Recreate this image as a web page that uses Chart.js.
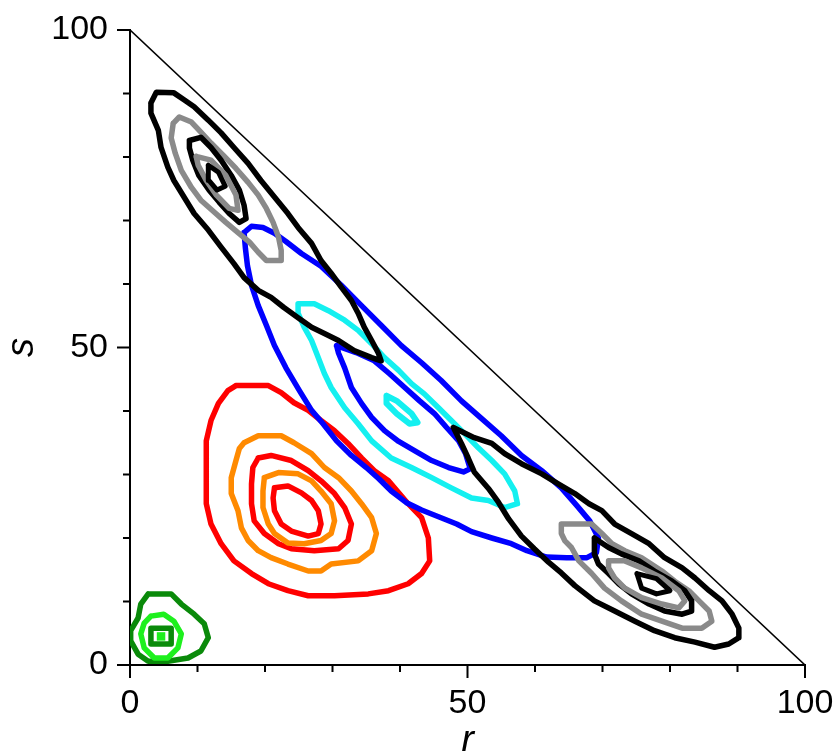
<!DOCTYPE html>
<html>
<head>
<meta charset="utf-8">
<script src="https://cdn.jsdelivr.net/npm/chart.js@4.4.1/dist/chart.umd.min.js"></script>
<style>
  html, body { margin: 0; padding: 0; background: #fff; }
  #wrap { width: 838px; height: 751px; position: relative; }
</style>
</head>
<body>
<div id="wrap"><canvas id="c" width="838" height="751"></canvas></div>
<script>
// Contour lines of the density over (r, s); each list is a closed loop of [r, s] vertices.

// upper-left cluster
const blackNWOuter = [[3.1,88.5],[3.9,90.2],[6.5,90.1],[8.0,89.0],[9.5,87.9],[11.6,85.8],[13.5,83.8],[15.4,81.5],[17.5,79.0],[19.4,76.3],[21.4,73.7],[23.4,71.1],[24.9,68.9],[26.9,66.4],[28.3,63.7],[29.8,61.7],[31.3,59.5],[32.8,57.4],[33.8,55.4],[34.7,53.2],[35.8,51.1],[36.8,49.1],[37.2,47.9],[35.8,48.4],[33.2,49.5],[30.9,51.1],[28.8,52.2],[26.9,53.2],[24.9,54.7],[22.8,56.3],[20.9,57.9],[19.0,59.0],[16.9,61.0],[15.4,63.2],[13.5,65.8],[11.6,68.5],[9.5,71.1],[8.0,73.7],[6.5,76.3],[5.6,78.4],[4.6,81.5],[4.2,84.2],[3.1,86.9]];
const grayNWOuter = [[6.4,85.3],[7.3,86.3],[9.1,85.5],[10.5,83.9],[12.0,82.2],[13.8,80.3],[15.7,78.2],[17.5,76.0],[19.0,74.0],[20.2,71.9],[21.2,69.7],[22.0,67.4],[22.4,65.3],[22.4,63.7],[20.2,63.7],[19.0,65.0],[17.7,66.6],[16.0,68.1],[14.2,69.7],[12.5,71.3],[10.5,73.2],[9.1,75.2],[7.6,77.9],[6.7,80.6],[6.1,83.0]];
const blackNWInner = [[8.8,82.6],[10.5,83.1],[12.0,81.5],[13.5,79.5],[15.0,77.1],[16.2,74.8],[16.9,72.4],[17.2,70.3],[16.2,69.7],[14.7,71.1],[13.2,72.9],[11.7,74.8],[10.2,77.1],[9.3,79.5],[8.8,81.4]];
const grayNWInner = [[9.8,80.1],[12.0,79.5],[14.2,77.1],[15.7,74.0],[16.0,71.6],[14.7,71.9],[12.8,74.0],[11.3,76.3],[10.1,78.7]];
const blackNWPeak = [[11.6,78.7],[13.1,77.6],[14.1,75.4],[12.9,74.8],[11.7,76.3]];

// lower-right cluster
const blackSEOuter = [[47.9,37.4],[51.0,35.8],[53.6,34.9],[55.5,33.3],[58.0,31.7],[61.0,30.1],[63.5,28.5],[65.9,27.0],[68.0,25.4],[69.9,24.3],[71.8,22.2],[74.3,20.7],[76.9,19.1],[79.2,16.9],[81.8,15.3],[83.7,13.7],[85.8,11.7],[87.7,10.1],[89.2,8.0],[90.2,5.8],[90.2,4.3],[88.7,3.3],[86.6,2.8],[83.7,3.6],[80.7,4.3],[77.7,5.4],[74.8,6.9],[71.8,8.5],[68.8,10.1],[65.9,12.5],[63.9,14.5],[62.0,16.2],[59.9,18.3],[58.0,20.3],[56.1,23.0],[54.6,25.6],[53.1,27.8],[51.0,30.4],[50.1,32.6],[49.1,34.9]];
const graySEOuter = [[63.9,22.2],[68.4,22.2],[69.9,20.7],[71.4,19.1],[73.3,18.0],[75.8,16.9],[78.8,14.8],[80.7,13.2],[82.8,11.7],[84.3,10.1],[85.8,8.5],[86.2,6.9],[84.7,5.8],[81.8,5.8],[78.8,6.9],[75.8,8.0],[72.8,10.1],[70.3,12.1],[68.4,14.4],[66.5,16.4],[65.4,18.5],[64.4,19.6],[63.9,20.7]];
const blackSEInner = [[68.8,20.0],[70.9,18.5],[72.8,17.5],[75.4,16.4],[77.7,14.8],[80.3,13.2],[82.2,11.7],[83.2,10.1],[83.2,8.5],[81.8,8.0],[79.2,8.5],[76.9,9.6],[74.3,11.2],[72.4,12.8],[70.9,14.4],[69.4,15.9],[68.8,17.5]];
const graySEInner = [[70.9,16.4],[73.3,16.4],[75.8,15.3],[78.8,13.7],[81.3,11.7],[82.2,10.1],[81.3,9.0],[78.8,9.6],[75.8,10.6],[73.3,12.1],[71.8,13.7],[70.9,15.3]];
const blackSEPeak = [[75.1,14.4],[78.0,13.6],[80.0,11.7],[78.0,11.2],[75.8,12.1]];

// central ridge
const blueOuter = [[16.9,68.1],[18.0,69.1],[19.7,68.9],[21.4,68.0],[23.1,66.7],[25.4,64.8],[28.3,62.8],[31.3,59.8],[34.3,56.6],[37.2,53.5],[40.2,50.3],[43.2,47.6],[46.1,44.8],[49.1,41.6],[52.1,38.8],[55.0,36.1],[58.0,33.0],[61.0,30.6],[63.9,27.9],[66.2,25.1],[68.1,22.7],[69.4,20.0],[69.1,17.7],[67.7,16.9],[64.7,16.9],[61.7,17.0],[58.8,18.0],[56.5,19.1],[53.6,20.0],[50.6,21.0],[48.4,22.2],[45.8,23.3],[43.2,24.4],[40.9,25.6],[38.7,27.4],[36.9,29.3],[35.0,31.1],[32.8,33.0],[30.6,35.3],[28.6,38.0],[26.9,40.1],[25.1,43.2],[23.1,46.8],[21.4,50.3],[20.2,53.5],[19.0,56.6],[18.0,59.8],[17.4,62.9],[17.1,65.6]];
const blueInner = [[30.6,50.3],[33.5,49.2],[36.2,47.9],[38.4,45.9],[40.7,43.7],[42.9,41.6],[45.1,39.6],[46.9,37.4],[48.7,35.3],[49.7,33.3],[50.4,30.9],[49.4,30.4],[47.2,31.1],[44.7,32.2],[42.4,33.6],[39.8,35.2],[37.7,36.9],[35.8,39.0],[34.3,41.2],[32.8,43.7],[31.8,46.8],[30.9,49.1]];
const cyanOuter = [[24.9,56.9],[27.3,56.9],[29.4,55.8],[31.8,54.3],[33.8,52.7],[35.8,50.6],[37.7,48.4],[39.8,46.4],[41.7,44.3],[43.6,42.7],[45.7,40.5],[47.6,38.5],[49.6,36.4],[51.6,34.2],[53.6,32.2],[55.5,30.1],[57.0,27.4],[57.4,25.4],[55.5,24.8],[53.1,25.9],[50.6,26.3],[47.6,27.9],[44.7,29.5],[41.7,31.1],[38.7,32.6],[35.8,35.3],[33.8,38.0],[31.8,40.5],[29.8,43.7],[28.8,45.9],[27.9,48.4],[26.9,51.1],[25.8,53.2],[24.9,55.4]];
const cyanInner = [[38.0,42.4],[39.5,41.6],[41.7,39.6],[42.6,38.2],[41.4,38.0],[39.5,39.6],[38.0,41.2]];

// left-centre peak
const redOuter = [[15.7,44.0],[20.5,44.0],[22.4,42.9],[24.3,41.3],[26.4,40.1],[28.3,38.5],[30.3,36.9],[32.3,34.9],[34.3,32.6],[36.2,30.6],[38.3,29.0],[41.2,25.4],[43.2,23.2],[44.2,20.0],[44.4,16.4],[43.2,14.4],[41.2,12.8],[38.3,11.7],[35.3,11.2],[30.3,10.9],[26.4,10.9],[23.4,11.7],[20.5,12.8],[18.0,14.4],[15.4,16.4],[13.5,19.1],[12.0,22.2],[11.3,25.4],[11.3,30.6],[11.3,35.3],[12.0,38.5],[13.1,41.2],[14.5,43.2]];
const orangeOuter = [[16.9,35.0],[19.0,36.1],[22.4,36.1],[24.3,35.0],[26.9,33.3],[28.8,31.1],[30.9,29.5],[32.8,27.4],[34.3,25.4],[35.8,23.2],[36.5,20.7],[35.8,18.0],[33.8,16.4],[29.8,15.9],[28.3,14.8],[26.4,14.8],[23.4,15.9],[20.9,16.9],[19.0,18.0],[17.5,19.6],[16.5,21.6],[16.0,24.3],[15.0,27.0],[15.0,29.5],[15.7,32.2],[16.2,34.1]];
const redMiddle = [[19.0,32.6],[20.9,33.0],[23.9,32.2],[26.4,30.6],[28.3,29.0],[30.3,27.0],[31.8,24.8],[32.8,22.2],[32.3,19.6],[30.9,18.3],[27.3,18.0],[23.9,18.3],[22.0,19.1],[19.9,20.7],[18.4,22.7],[18.0,25.4],[18.0,28.5],[18.2,31.1]];
const orangeInner = [[19.9,29.5],[22.0,30.3],[24.9,30.1],[26.9,29.0],[28.3,27.4],[29.8,25.4],[30.3,22.7],[29.8,20.7],[28.3,19.6],[25.8,19.1],[23.4,19.2],[21.4,20.7],[20.5,22.2],[19.7,24.8],[19.7,27.4]];
const redInner = [[21.4,27.9],[23.4,28.2],[25.4,27.1],[26.9,25.9],[27.9,24.3],[28.3,22.2],[27.9,20.7],[26.4,20.3],[23.9,21.1],[22.4,22.2],[21.4,24.3],[21.2,26.3]];

// corner peak near the origin
const greenOuter = [[2.7,11.2],[6.1,11.2],[7.6,9.6],[9.5,8.0],[11.0,6.5],[11.6,4.3],[10.5,2.2],[8.6,1.1],[5.6,0.6],[2.7,0.6],[1.2,1.7],[0.1,3.8],[0.1,5.4],[1.2,7.4],[1.6,9.6]];
const limeRing = [[3.1,7.7],[5.0,8.0],[6.5,6.9],[7.6,4.9],[7.1,2.7],[5.6,1.1],[3.6,1.1],[2.1,2.7],[1.6,4.9],[2.1,6.6]];
const greenInner = [[3.1,5.8],[6.1,5.8],[6.1,3.3],[3.1,3.3]];
const limePeak = [[4.6,4.5]];

// simplex edge r + s = 100
const edgeLine = [[0,100],[100,0]];

// axis tick marks
const tickValues = [0,10,20,30,40,50,60,70,80,90,100];
const majorTicks = [0,50,100];

const BLACK = '#000000', GRAY = '#8a8a8a', BLUE = '#0000ff', CYAN = '#14f0f0',
      RED = '#ff0000', ORANGE = '#ff8a00', GREEN = '#0a8a0a', LIME = '#1ef01e';

function loop(points, color, width) {
  const pts = points.map(p => ({x: p[0], y: p[1]}));
  pts.push({x: points[0][0], y: points[0][1]});
  return {
    data: pts, showLine: true, borderColor: color, backgroundColor: color,
    borderWidth: width || 5.5, pointRadius: 0, fill: false, tension: 0,
    borderJoinStyle: 'round', borderCapStyle: 'round'
  };
}

// first dataset ends up on top
const datasets = [
  {data: edgeLine.map(p => ({x: p[0], y: p[1]})), showLine: true, borderColor: BLACK,
   borderWidth: 1.6, pointRadius: 0, fill: false},
  loop(blackNWPeak, BLACK, 5),
  loop(grayNWInner, GRAY),
  loop(blackNWInner, BLACK),
  loop(grayNWOuter, GRAY),
  loop(blackNWOuter, BLACK),
  loop(blackSEPeak, BLACK, 5),
  loop(graySEInner, GRAY),
  loop(blackSEInner, BLACK),
  loop(graySEOuter, GRAY),
  loop(blackSEOuter, BLACK),
  loop(cyanInner, CYAN, 6),
  loop(cyanOuter, CYAN),
  loop(blueInner, BLUE),
  loop(blueOuter, BLUE),
  loop(redInner, RED),
  loop(orangeInner, ORANGE),
  loop(redMiddle, RED),
  loop(orangeOuter, ORANGE),
  loop(redOuter, RED),
  {data: limePeak.map(p => ({x: p[0], y: p[1]})), showLine: false, pointStyle: 'rect',
   pointRadius: 6, backgroundColor: LIME, borderColor: LIME, borderWidth: 0},
  loop(greenInner, GREEN),
  loop(limeRing, LIME),
  loop(greenOuter, GREEN)
];

const axisTicks = {
  id: 'axisTicks',
  afterDraw(chart) {
    const {ctx, scales: {x, y}} = chart;
    ctx.save();
    ctx.strokeStyle = BLACK;
    ctx.lineWidth = 2;
    tickValues.forEach(v => {
      const len = majorTicks.includes(v) ? 13 : 7;
      const px = x.getPixelForValue(v);
      const py = y.getPixelForValue(v);
      ctx.beginPath();
      ctx.moveTo(px, y.bottom); ctx.lineTo(px, y.bottom + len);
      ctx.moveTo(x.left, py); ctx.lineTo(x.left - len, py);
      ctx.stroke();
    });
    ctx.restore();
  }
};

// fixed axis boxes; label overhang is absorbed by the layout padding instead
function fixBox(size, horizontal) {
  return function (scale) {
    if (horizontal) scale.height = size; else scale.width = size;
    scale.paddingTop = 0; scale.paddingBottom = 0;
    scale.paddingLeft = 0; scale.paddingRight = 0;
  };
}

const tickFont = {family: 'Liberation Sans', size: 34};
const titleFont = {family: 'Liberation Sans', size: 38, style: 'italic'};

new Chart(document.getElementById('c'), {
  type: 'scatter',
  data: {datasets},
  options: {
    responsive: false,
    animation: false,
    events: [],
    layout: {padding: {left: 0, right: 33, top: 30, bottom: 0}},
    plugins: {legend: {display: false}, tooltip: {enabled: false}},
    scales: {
      x: {
        type: 'linear', min: 0, max: 100,
        ticks: {stepSize: 50, font: tickFont, color: BLACK, padding: 18, maxRotation: 0, autoSkip: false},
        grid: {drawOnChartArea: false, drawTicks: false},
        border: {color: BLACK, width: 2},
        title: {display: true, text: 'r', font: titleFont, color: BLACK, padding: {top: 0, bottom: -13}},
        afterFit: fixBox(86, true)
      },
      y: {
        type: 'linear', min: 0, max: 100,
        ticks: {stepSize: 50, font: tickFont, color: BLACK, padding: 22},
        grid: {drawOnChartArea: false, drawTicks: false},
        border: {color: BLACK, width: 2},
        title: {display: true, text: 's', font: titleFont, color: BLACK, padding: {top: 0, bottom: 0}},
        afterFit: fixBox(130, false)
      }
    }
  },
  plugins: [axisTicks]
});
</script>
</body>
</html>
